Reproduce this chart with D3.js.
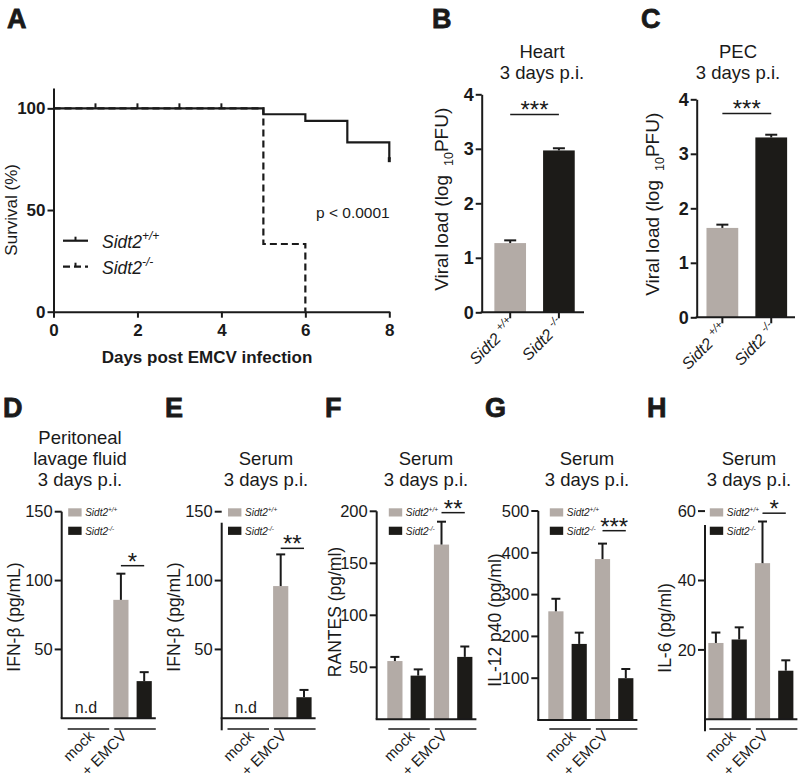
<!DOCTYPE html>
<html><head><meta charset="utf-8">
<script src="https://cdn.jsdelivr.net/npm/d3@7"></script>
<style>
body{margin:0;background:#fff}
svg{display:block}
text{font-family:"Liberation Sans",Arial,Helvetica,sans-serif;fill:#1a1a1a}
</style>
</head><body>
<svg id="c" width="800" height="781"></svg>
<script>
// ---------------- DATA ----------------
// Panel A: Kaplan-Meier survival
const wtStepDays = [0, 5, 6, 7, 8];
const wtSurvival = [100, 97.1, 93.8, 83.3, 75];
const koStepDays = [0, 5, 6];
const koSurvival = [100, 33.3, 0];
const wtCensorDays = [1, 2, 3, 4];
const survXTicks = [0, 2, 4, 6, 8];
const survYTicks = [0, 50, 100];
const survPText = "p < 0.0001";

// Panels B, C: viral load
const genotypes = ["+/+", "-/-"];
const heartLoad = [1.27, 2.97];
const heartErr = [0.05, 0.04];
const pecLoad = [1.64, 3.30];
const pecErr = [0.06, 0.05];
const viralTicks = [0, 1, 2, 3, 4];

// Panels D-H: cytokines (conditions x genotype)
const conditions = ["mock", "+ EMCV"];
const plfIfnbWT = [null, 86],  plfIfnbWTErr = [null, 19];
const plfIfnbKO = [null, 27],  plfIfnbKOErr = [null, 6.5];
const serIfnbWT = [null, 96],  serIfnbWTErr = [null, 23];
const serIfnbKO = [null, 15.3], serIfnbKOErr = [null, 5.3];
const rantesWT = [56, 168],    rantesWTErr = [4, 22];
const rantesKO = [42, 60],     rantesKOErr = [6, 10];
const il12WT = [260, 385],     il12WTErr = [30, 37];
const il12KO = [182, 100],     il12KOErr = [27, 22];
const il6WT = [22, 45],        il6WTErr = [3, 12];
const il6KO = [23, 14],        il6KOErr = [3.5, 3];
const ifnTicks = [50, 100, 150];
const rantesTicks = [50, 100, 150, 200];
const il12Ticks = [100, 200, 300, 400, 500];
const il6Ticks = [20, 40, 60];

// ---------------- STYLE ----------------
const GRAY = "#b3aba6", DARK = "#1c1b18", INK = "#1a1a1a";
const FONT = '"Liberation Sans",Arial,Helvetica,sans-serif';
const svg = d3.select("#c");
svg.append("rect").attr("width", 800).attr("height", 781).attr("fill", "#fff");

function txt(g, x, y, s, size, opts = {}) {
  const t = g.append("text").attr("x", x).attr("y", y).attr("font-size", size).text(s);
  if (opts.bold) t.attr("font-weight", "bold");
  if (opts.italic) t.attr("font-style", "italic");
  if (opts.anchor) t.attr("text-anchor", opts.anchor);
  return t;
}
function hline(g, x1, x2, y, w) {
  g.append("line").attr("x1", x1).attr("x2", x2).attr("y1", y).attr("y2", y)
    .attr("stroke", INK).attr("stroke-width", w || 2);
}
function vline(g, x, y1, y2, w) {
  g.append("line").attr("x1", x).attr("x2", x).attr("y1", y1).attr("y2", y2)
    .attr("stroke", INK).attr("stroke-width", w || 2);
}
function sidtLabel(t, sup, supSize, raise) {
  t.text(null);
  t.append("tspan").text("Sidt2");
  t.append("tspan").attr("font-size", supSize).attr("dy", -raise).text(sup);
  return t;
}
function styleAxis(a, size, bold) {
  a.selectAll("path.domain").attr("stroke", INK).attr("stroke-width", 2);
  a.selectAll(".tick line").attr("stroke", INK).attr("stroke-width", 2);
  a.selectAll(".tick text").attr("font-size", size).attr("font-weight", bold ? "bold" : "normal")
    .attr("font-family", FONT).attr("fill", INK);
}

// panel letters
[["A", 7, 28], ["B", 432, 28], ["C", 641, 28], ["D", 3, 417], ["E", 165, 417],
 ["F", 325, 417], ["G", 485, 417], ["H", 647, 417]].forEach(([l, x, y]) =>
  txt(svg, x, y, l, 27, { bold: true }).attr("stroke", INK).attr("stroke-width", 0.8));

// ---------------- PANEL A ----------------
(function () {
  const g = svg.append("g");
  const x = d3.scaleLinear().domain([0, 8]).range([53.5, 389.3]);
  const y = d3.scaleLinear().domain([0, 110]).range([311.7, 88]);

  const xa = g.append("g").attr("transform", `translate(0,${y(0)})`)
    .call(d3.axisBottom(x).tickValues(survXTicks).tickFormat(d3.format("d"))
      .tickSize(6).tickSizeOuter(0).tickPadding(6));
  const ya = g.append("g").attr("transform", `translate(${x(0)},0)`)
    .call(d3.axisLeft(y).tickValues(survYTicks).tickFormat(d3.format("d"))
      .tickSize(6).tickSizeOuter(0).tickPadding(2));
  styleAxis(xa, 17, true);
  styleAxis(ya, 17, true);

  const line = d3.line().x(d => x(d[0])).y(d => y(d[1])).curve(d3.curveStepAfter);
  const wt = wtStepDays.map((d, i) => [d, wtSurvival[i]]);
  const ko = koStepDays.map((d, i) => [d, koSurvival[i]]);
  g.append("path").attr("d", line(wt)).attr("fill", "none").attr("stroke", INK).attr("stroke-width", 2.2);
  g.append("path").attr("d", line(ko)).attr("fill", "none").attr("stroke", INK)
    .attr("stroke-width", 2.2).attr("stroke-dasharray", "7,4");
  wtCensorDays.forEach(d => vline(g, x(d), y(100), y(100) - 5, 2));
  vline(g, x(8), y(75) - 2, y(75) + 3, 3);

  // legend
  const lx1 = 63, lx2 = 88;
  [[240.7, false, "+/+"], [266.7, true, "-/-"]].forEach(([ly, dashed, sup]) => {
    const l = g.append("line").attr("x1", lx1).attr("x2", lx2).attr("y1", ly).attr("y2", ly)
      .attr("stroke", INK).attr("stroke-width", 2.2);
    if (dashed) l.attr("stroke-dasharray", "7,4");
    vline(g, (lx1 + lx2) / 2, ly, ly - 4, 2);
    const t = txt(g, 102, ly + 7, "", 17.5, { italic: true });
    sidtLabel(t, sup, 12, 8);
  });

  txt(g, 316, 218, survPText, 15.5);
  txt(g, 0, 0, "Survival (%)", 17, { anchor: "middle" })
    .attr("transform", `translate(17,${(y(0) + y(110)) / 2 + 10}) rotate(-90)`);
  txt(g, 207, 363, "Days post EMCV infection", 17, { bold: true, anchor: "middle" });
})();

// ---------------- PANELS B, C ----------------
function viralPanel(o) {
  const g = svg.append("g");
  const x = d3.scaleBand().domain(genotypes).range([o.x0, o.x1]).paddingInner(0.35).paddingOuter(o.po);
  const y = d3.scaleLinear().domain([0, 4]).range([o.y0, o.y4]);
  const bw = x.bandwidth();
  genotypes.forEach((gt, i) => {
    g.append("rect").attr("x", x(gt)).attr("width", bw)
      .attr("y", y(o.vals[i])).attr("height", y(0) - y(o.vals[i]))
      .attr("fill", i === 0 ? GRAY : DARK);
    const cx = x(gt) + bw / 2;
    vline(g, cx, y(o.vals[i]), y(o.vals[i] + o.errs[i]), 2);
    hline(g, cx - 6, cx + 6, y(o.vals[i] + o.errs[i]), 2);
    vline(g, cx, y(0), y(0) + 6, 2);
    const t = g.append("text").attr("font-size", 16).attr("font-style", "italic")
      .attr("text-anchor", "end")
      .attr("transform", `translate(${cx + 6},${y(0) + 13}) rotate(-45)`);
    t.append("tspan").text("Sidt2 ");
    t.append("tspan").attr("font-size", 11).attr("dy", -7).text(gt);
  });
  const ya = g.append("g").attr("transform", `translate(${o.x0},0)`)
    .call(d3.axisLeft(y).tickValues(viralTicks).tickFormat(d3.format("d"))
      .tickSize(6).tickSizeOuter(0).tickPadding(2));
  styleAxis(ya, 18, true);
  hline(g, o.x0 - 1, o.xEnd, y(0), 2);

  // significance
  const c0 = x(genotypes[0]) + bw / 2, c1 = x(genotypes[1]) + bw / 2;
  hline(g, c0, c1, y(o.sig), 1.5);
  txt(g, (c0 + c1) / 2, y(o.sig) + 4, o.stars, 24, { anchor: "middle" });

  // titles
  o.title.forEach((s, i) => txt(g, o.tx, 58 + i * 21, s, 18.5, { anchor: "middle" }));
  // y label
  const yl = g.append("text").attr("font-size", 19).attr("text-anchor", "middle")
    .attr("transform", `translate(${o.lx},${(o.y0 + o.y4) / 2 - 4}) rotate(-90)`);
  yl.append("tspan").text("Viral load (log");
  yl.append("tspan").attr("font-size", 12.5).attr("dx", 9).attr("dy", 5).text("10");
  yl.append("tspan").attr("dy", -5).text("PFU)");
}
viralPanel({ x0: 481.7, x1: 587.4, po: 0.26, y0: 312.3, y4: 94.3, xEnd: 584,
  vals: heartLoad, errs: heartErr, sig: 3.63, stars: "***", title: ["Heart", "3 days p.i."],
  tx: 542, lx: 448 });
viralPanel({ x0: 696.7, x1: 796.9, po: 0.2, y0: 317.3, y4: 99.3, xEnd: 795,
  vals: pecLoad, errs: pecErr, sig: 3.74, stars: "***", title: ["PEC", "3 days p.i."],
  tx: 738, lx: 659 });

// ---------------- PANELS D-H ----------------
function cytoPanel(o) {
  const g = svg.append("g");
  const step = 23.3, pi = 0.348, po = o.off / step;
  const keys = [];
  conditions.forEach(c => genotypes.forEach(gt => keys.push(c + "|" + gt)));
  const x = d3.scaleBand().domain(keys)
    .range([o.ax, o.ax + step * (keys.length - pi + 2 * po)]).paddingInner(pi).paddingOuter(po);
  const y = d3.scaleLinear().domain([0, o.max]).range([o.y0, o.yTop]);
  const bw = x.bandwidth();
  const series = [[o.wt, o.wtE, GRAY], [o.ko, o.koE, DARK]];

  conditions.forEach((c, ci) => {
    series.forEach(([v, e, col], si) => {
      const val = v[ci];
      if (val == null) return;
      const k = c + "|" + genotypes[si];
      g.append("rect").attr("x", x(k)).attr("width", bw)
        .attr("y", y(val)).attr("height", y(0) - y(val)).attr("fill", col);
      const cx = x(k) + bw / 2;
      vline(g, cx, y(val), y(val + e[ci]), 2);
      hline(g, cx - 4.5, cx + 4.5, y(val + e[ci]), 2);
    });
    const a = x(c + "|" + genotypes[0]), b = x(c + "|" + genotypes[1]) + bw;
    if (o.wt[ci] == null && o.ko[ci] == null)
      txt(g, (a + b) / 2, y(0) - 5, "n.d", 16, { anchor: "middle" });
    hline(g, a + 1, b + 4, 729, 1.5);
    txt(g, 0, 0, c, 15, { anchor: "end" })
      .attr("transform", `translate(${(a + b) / 2 + (ci === 0 ? 9 : -5)},737) rotate(-45)`);
  });

  // axes
  const lastEnd = x(keys[keys.length - 1]) + bw + 4;
  hline(g, o.ax - 1, lastEnd, y(0), 2);
  vline(g, o.ax, y(o.axTop), y(0) + o.below, 2);
  o.ticks.forEach(t => {
    hline(g, o.ax - 7, o.ax, y(t), 2);
    txt(g, o.ax - 9, y(t), String(t), 16.5, { anchor: "end" }).attr("dy", "0.35em");
  });

  // legend
  const lx = x(keys[0]) + 1.5;
  [[508.3, GRAY, "+/+"], [526.7, DARK, "-/-"]].forEach(([ly, col, sup]) => {
    g.append("rect").attr("x", lx).attr("y", ly).attr("width", 13.4).attr("height", 8.2).attr("fill", col);
    const t = txt(g, lx + 17, ly + 8, "", 10, { italic: true }).attr("fill", "#333");
    sidtLabel(t, sup, 6.5, 4);
  });

  // significance
  const k0 = conditions[1] + "|" + genotypes[0], k1 = conditions[1] + "|" + genotypes[1];
  const c0 = x(k0) + bw / 2, c1 = x(k1) + bw / 2;
  hline(g, c0, c1, y(o.sig), 1.5);
  txt(g, (c0 + c1) / 2, y(o.sig) + 4, o.stars, 24, { anchor: "middle" });

  // title + y label
  const n = o.title.length;
  o.title.forEach((s, i) => txt(g, o.tx, 486 - (n - 1 - i) * 21, s, 18.5, { anchor: "middle" }));
  txt(g, 0, 0, o.ylab, 17.5, { anchor: "middle" })
    .attr("transform", `translate(${o.lx},${o.ly}) rotate(-90)`);
}

cytoPanel({ ax: 61.7, off: 5, y0: 718.3, yTop: 511.7, max: 150, axTop: 150, below: 0,
  ticks: ifnTicks, wt: plfIfnbWT, wtE: plfIfnbWTErr, ko: plfIfnbKO, koE: plfIfnbKOErr,
  sig: 110.8, stars: "*", title: ["Peritoneal", "lavage fluid", "3 days p.i."], tx: 80,
  ylab: "IFN-β (pg/mL)", lx: 20, ly: 617 });
cytoPanel({ ax: 221.7, off: 4.8, y0: 718.3, yTop: 511.7, max: 150, axTop: 142, below: 12,
  ticks: ifnTicks, wt: serIfnbWT, wtE: serIfnbWTErr, ko: serIfnbKO, koE: serIfnbKOErr,
  sig: 123.4, stars: "**", title: ["Serum", "3 days p.i."], tx: 266,
  ylab: "IFN-β (pg/mL)", lx: 180, ly: 617 });
cytoPanel({ ax: 376.7, off: 10.6, y0: 719.3, yTop: 511.3, max: 200, axTop: 200, below: 0,
  ticks: rantesTicks, wt: rantesWT, wtE: rantesWTErr, ko: rantesKO, koE: rantesKOErr,
  sig: 198.7, stars: "**", title: ["Serum", "3 days p.i."], tx: 426,
  ylab: "RANTES (pg/ml)", lx: 341, ly: 612 });
cytoPanel({ ax: 538.3, off: 10, y0: 720, yTop: 511, max: 500, axTop: 500, below: 0,
  ticks: il12Ticks, wt: il12WT, wtE: il12WTErr, ko: il12KO, koE: il12KOErr,
  sig: 452.9, stars: "***", title: ["Serum", "3 days p.i."], tx: 587,
  ylab: "IL-12 p40 (pg/ml)", lx: 501, ly: 620 });
cytoPanel({ ax: 705, off: 3.3, y0: 719.3, yTop: 511.1, max: 60, axTop: 56, below: 12,
  ticks: il6Ticks, wt: il6WT, wtE: il6WTErr, ko: il6KO, koE: il6KOErr,
  sig: 59.4, stars: "*", title: ["Serum", "3 days p.i."], tx: 749,
  ylab: "IL-6 (pg/ml)", lx: 671, ly: 628 });
</script>
</body></html>
